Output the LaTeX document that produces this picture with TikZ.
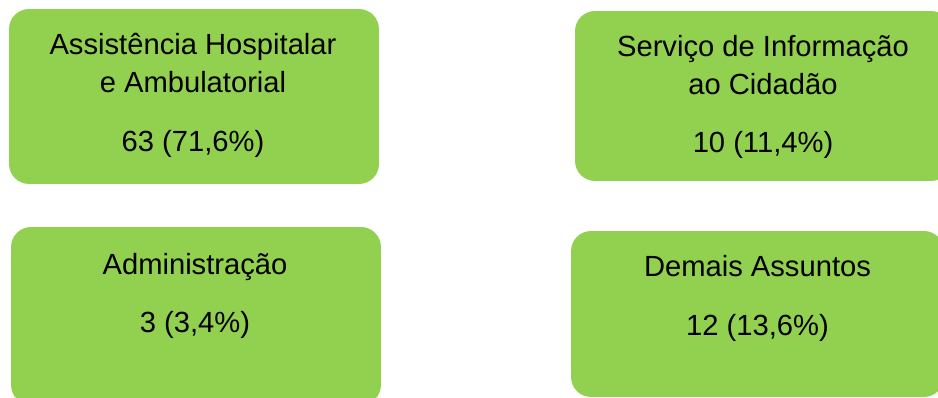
\documentclass[tikz,border=0pt]{standalone}
\usepackage{fontspec}
\setmainfont{Liberation Sans}
\definecolor{verde}{HTML}{92D050}
\begin{document}
\begin{tikzpicture}[x=0.02cm, y=-0.02cm]
  %
  \tikzstyle{b} = [fill=verde, draw=none, rounded corners=0.4cm, inner sep=0pt]
  \tikzstyle{t} = [anchor=base, inner sep=0pt, font=\fontsize{16.6}{19}\selectfont]
  \useasboundingbox (0,0) rectangle (938,398);
  \clip (0,0) rectangle (938,398);
  % caixas
  \node[b, minimum width=7.4cm, minimum height=3.5cm] (hosp) at (194,96.5) {};
  \node[b, minimum width=7.52cm, minimum height=3.4cm] (sic) at (763,96) {};
  \node[b, minimum width=7.4cm, minimum height=3.56cm] (adm) at (196,316) {};
  \node[b, minimum width=7.46cm, minimum height=3.32cm] (demais) at (757.5,314) {};
  % textos
  \node[t] (hosp1) at (193,55) {Assistência Hospitalar};
  \node[t] (hosp2) at (193,93) {e Ambulatorial};
  \node[t] (hosp3) at (193,152) {63 (71,6\%)};
  \node[t] (sic1) at (763,57) {Serviço de Informação};
  \node[t] (sic2) at (763,95) {ao Cidadão};
  \node[t] (sic3) at (763,153) {10 (11,4\%)};
  \node[t] (adm1) at (195,275) {Administração};
  \node[t] (adm2) at (195,333) {3 (3,4\%)};
  \node[t] (demais1) at (757.5,277) {Demais Assuntos};
  \node[t] (demais2) at (757.5,336) {12 (13,6\%)};
\end{tikzpicture}
\end{document}
